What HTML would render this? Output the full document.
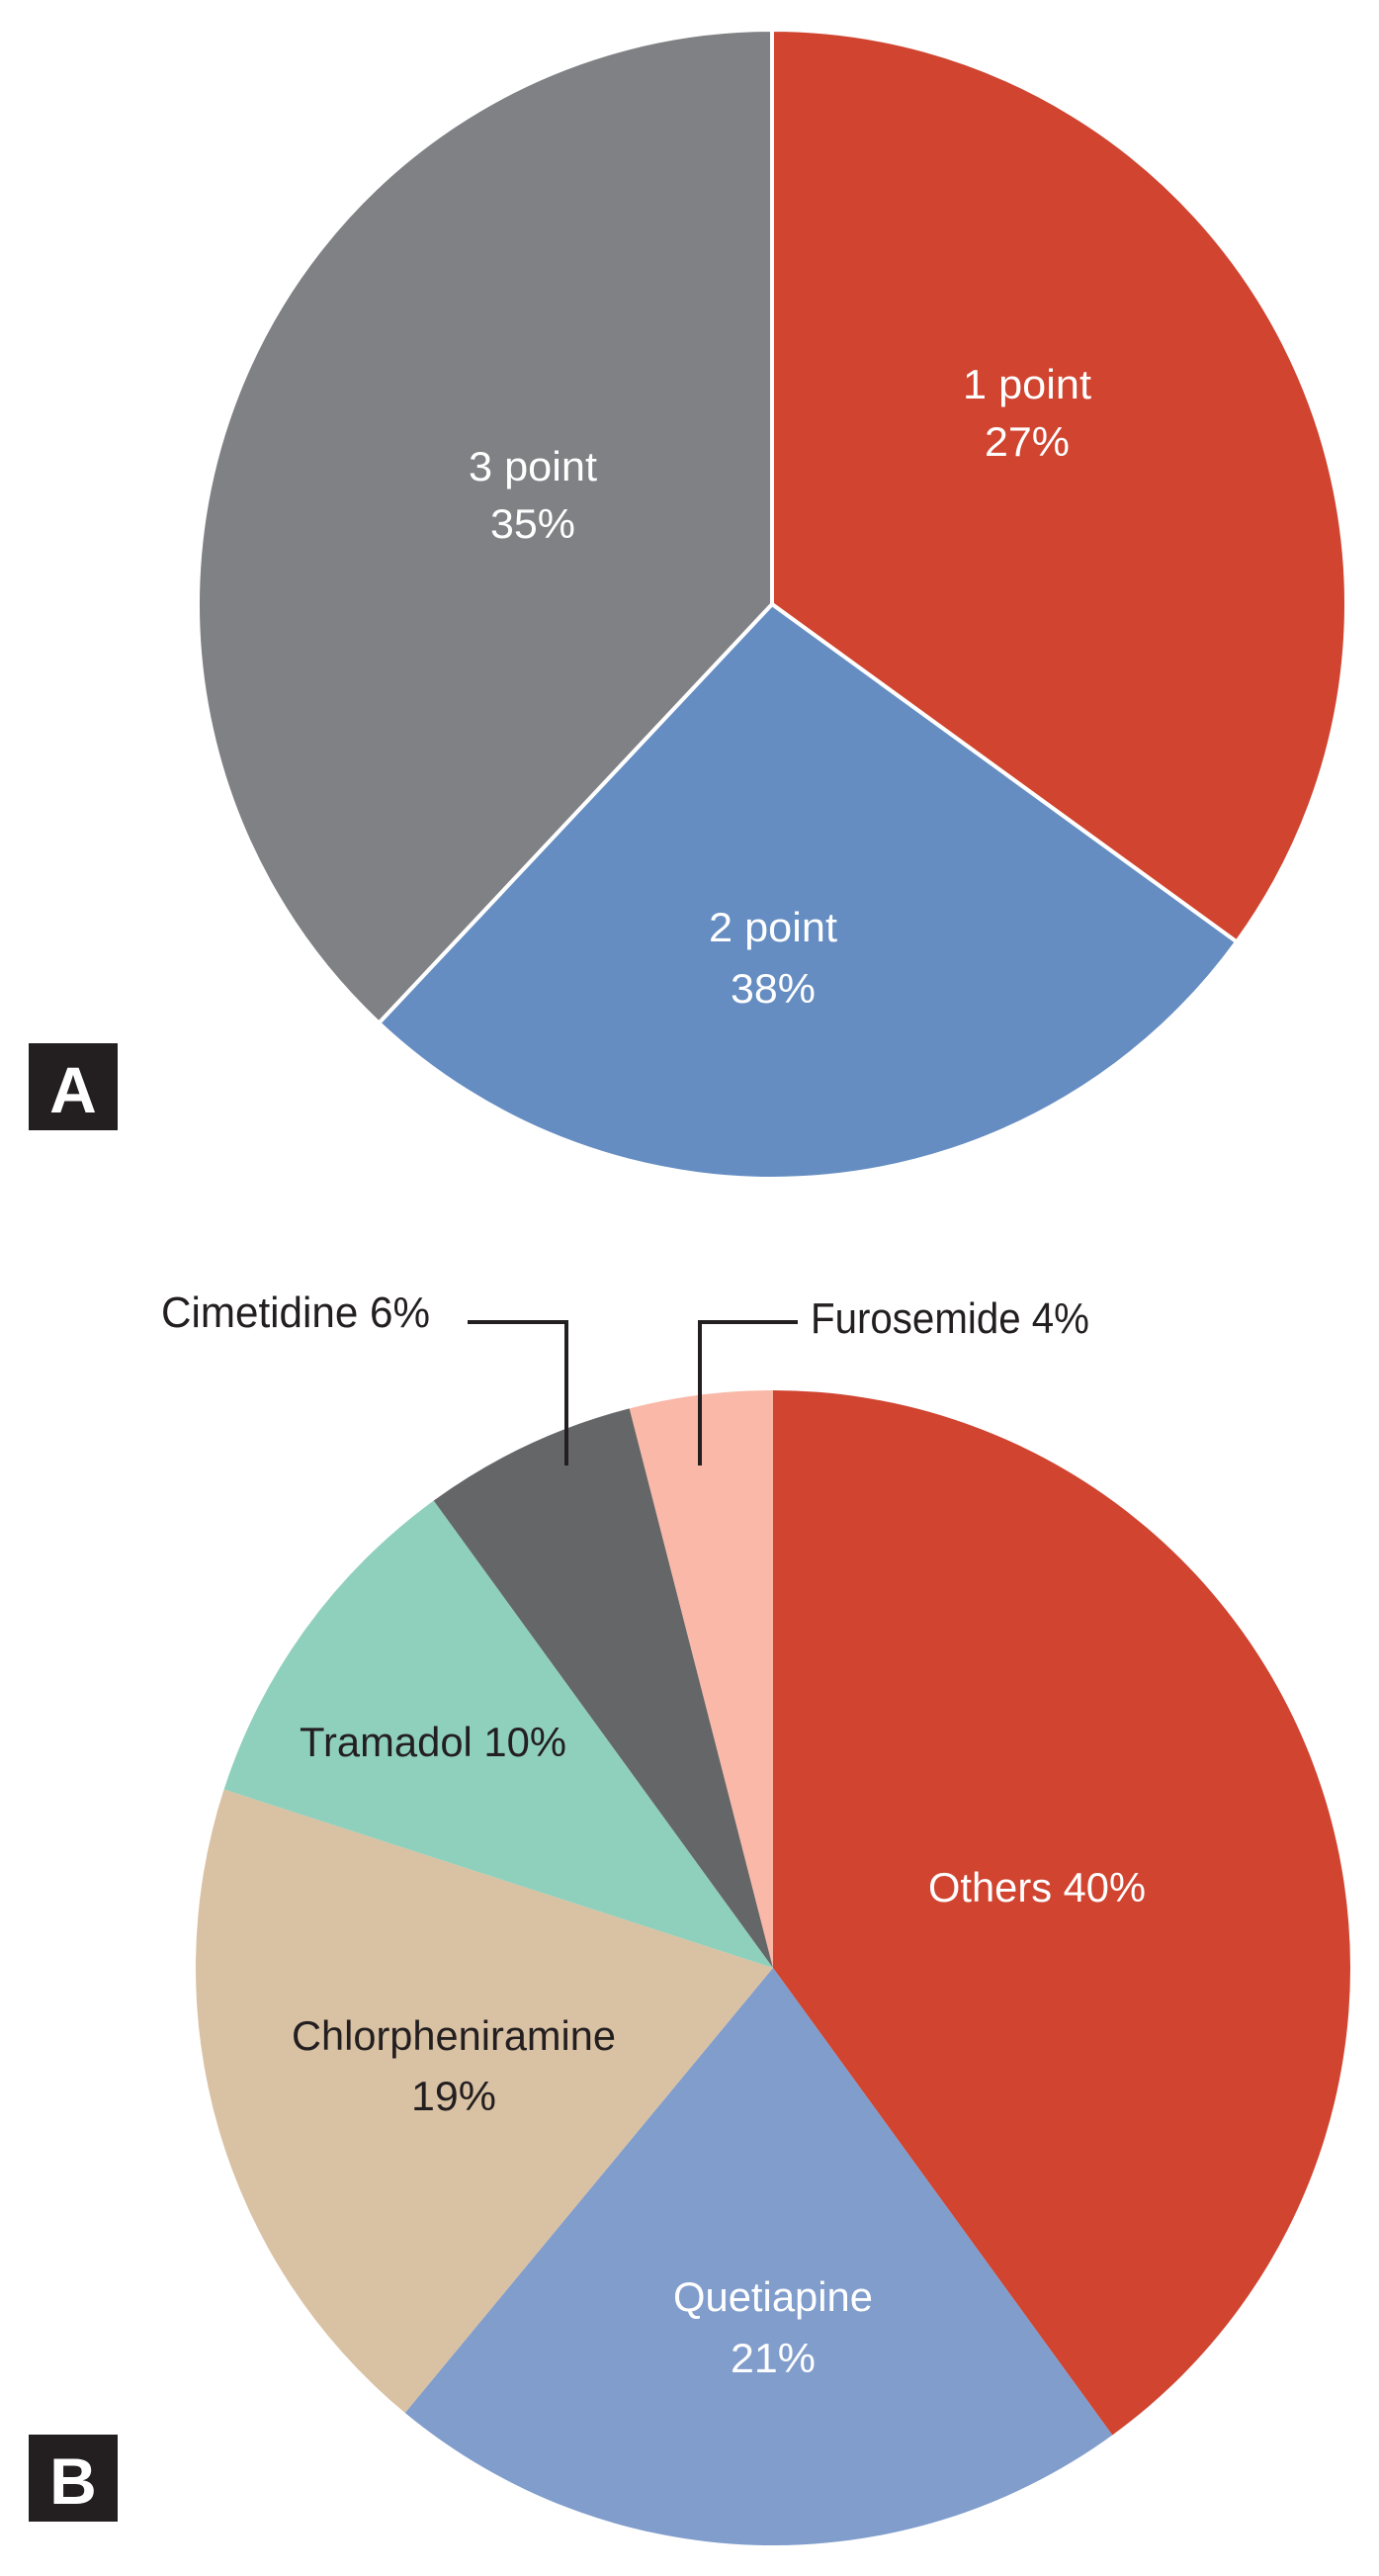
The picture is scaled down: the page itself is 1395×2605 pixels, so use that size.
<!DOCTYPE html>
<html><head><meta charset="utf-8"><style>
html,body{margin:0;padding:0;background:#fff}
svg{display:block}
text{font-family:"Liberation Sans",sans-serif}
</style></head>
<body>
<svg id="fig" width="1395" height="2605" viewBox="0 0 1395 2605" xmlns="http://www.w3.org/2000/svg">
<g id="pieA"></g>
<g id="pieB"></g>
<g><rect x="29" y="1055" width="90" height="88" fill="#231f20"/><text x="74" y="1125" font-size="66" font-weight="bold" fill="#fff" text-anchor="middle">A</text></g>
<g><rect x="29" y="2462" width="90" height="88" fill="#231f20"/><text x="74" y="2532" font-size="66" font-weight="bold" fill="#fff" text-anchor="middle">B</text></g>
<g>
<text x="163" y="1342" font-size="44" fill="#231f20" textLength="272" lengthAdjust="spacingAndGlyphs">Cimetidine 6%</text>
<polyline points="473,1337 573,1337 573,1482" fill="none" stroke="#231f20" stroke-width="4"/>
</g>
<g>
<text x="820" y="1348" font-size="44" fill="#231f20" textLength="282" lengthAdjust="spacingAndGlyphs">Furosemide 4%</text>
<polyline points="807,1337 708,1337 708,1482" fill="none" stroke="#231f20" stroke-width="4"/>
</g>
</svg>
<script>
// Pie A data (slice shares as drawn, clockwise from top)
const aCategories = ["1 point", "2 point", "3 point"];
const aShares = [35, 27, 38];
const aLabels = ["27%", "38%", "35%"];
const aColors = ["#d04430", "#658dc2", "#808184"];
// Pie B data
const bCategories = ["Others", "Quetiapine", "Chlorpheniramine", "Tramadol", "Cimetidine", "Furosemide"];
const bShares = [40, 21, 19, 10, 6, 4];
const bColors = ["#d04430", "#809dcc", "#d9c1a3", "#8fd0bc", "#656668", "#f9b8a8"];

const NS = "http://www.w3.org/2000/svg";
function pt(cx, cy, r, frac) { const a = frac * 2 * Math.PI; return [cx + r * Math.sin(a), cy - r * Math.cos(a)]; }
function drawPie(g, cx, cy, r, shares, colors, stroke, names) {
  const total = shares.reduce((s, v) => s + v, 0);
  let acc = 0;
  shares.forEach((v, i) => {
    const f0 = acc / total, f1 = (acc + v) / total; acc += v;
    const p0 = pt(cx, cy, r, f0), p1 = pt(cx, cy, r, f1);
    const large = (f1 - f0) > 0.5 ? 1 : 0;
    const p = document.createElementNS(NS, "path");
    p.setAttribute("d", `M${cx},${cy} L${p0[0]},${p0[1]} A${r},${r} 0 ${large} 1 ${p1[0]},${p1[1]} Z`);
    p.setAttribute("fill", colors[i]);
    if (stroke) { p.setAttribute("stroke", "#fff"); p.setAttribute("stroke-width", "4"); p.setAttribute("stroke-linejoin", "round"); }
    
    
    g.appendChild(p);
  });
}
function addText(g, x, y, str, color, name, len) {
  const t = document.createElementNS(NS, "text");
  t.setAttribute("x", x); t.setAttribute("y", y);
  t.setAttribute("font-size", "42"); t.setAttribute("fill", color);
  t.setAttribute("text-anchor", "middle");
  if (len) { t.setAttribute("textLength", len); t.setAttribute("lengthAdjust", "spacingAndGlyphs"); }
  t.textContent = str;
  
  
  g.appendChild(t);
}
const gA = document.getElementById("pieA");
drawPie(gA, 781, 611, 581, aShares, aColors, true, aCategories);
addText(gA, 1039, 403, aCategories[0], "#fff", "label-1-point", 130);
addText(gA, 1039, 461, aLabels[0], "#fff", "value-1-point", 86);
addText(gA, 782, 952, aCategories[1], "#fff", "label-2-point", 130);
addText(gA, 782, 1014, aLabels[1], "#fff", "value-2-point", 86);
addText(gA, 539, 486, aCategories[2], "#fff", "label-3-point", 130);
addText(gA, 539, 544, aLabels[2], "#fff", "value-3-point", 86);

const gB = document.getElementById("pieB");
drawPie(gB, 782, 1990, 584, bShares, bColors, false, bCategories);
addText(gB, 1049, 1923, bCategories[0] + " " + bShares[0] + "%", "#fff", "label-others", 220);
addText(gB, 782, 2337, bCategories[1], "#fff", "label-quetiapine", 202);
addText(gB, 782, 2399, bShares[1] + "%", "#fff", "value-quetiapine", 86);
addText(gB, 459, 2073, bCategories[2], "#231f20", "label-chlorpheniramine", 328);
addText(gB, 459, 2134, bShares[2] + "%", "#231f20", "value-chlorpheniramine", 86);
addText(gB, 438, 1776, bCategories[3] + " " + bShares[3] + "%", "#231f20", "label-tramadol", 270);
</script>
</body></html>
